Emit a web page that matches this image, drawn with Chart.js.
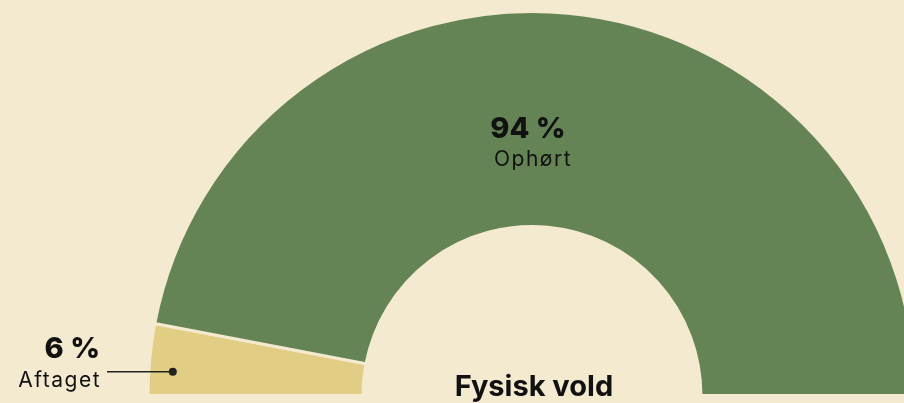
<!DOCTYPE html>
<html lang="da">
<head>
<meta charset="utf-8">
<script src="https://cdn.jsdelivr.net/npm/chart.js@4/dist/chart.umd.min.js"></script>
<style>
    html, body { margin: 0; padding: 0; background: #F3EACF; overflow: hidden; }
    #wrap { position: relative; width: 904px; height: 403px; overflow: hidden; }
    #chart { position: absolute; left: 0; top: 0; }
</style>
</head>
<body>
<div id="wrap"><canvas id="chart" width="1100" height="403"></canvas></div>
<script>
const categories = ['Aftaget', 'Ophørt'];
const values = [6, 94];
const valueLabels = ['6 %', '94 %'];
const chartTitle = 'Fysisk vold';

const bg = '#F3EACF';
const fontFamily = 'Inter, "Noto Sans", sans-serif';

// tekster tegnes direkte på canvas
const labelPlugin = {
    id: 'halfLabels',
    afterDraw(chart) {
        const ctx = chart.ctx;
        const meta = chart.getDatasetMeta(0);
        const small = meta.data[0];
        const big = meta.data[1];
        const cx = big.x, cy = big.y;

        ctx.save();
        ctx.fillStyle = '#111';

        // 94 % / Ophørt
        ctx.textAlign = 'center';
        ctx.font = `800 29px ${fontFamily}`;
        ctx.fillText(valueLabels[1], 528, cy - 258);
        ctx.font = `21px ${fontFamily}`;
        ctx.letterSpacing = '1.5px';
        ctx.fillText(categories[1], 533, cy - 230);
        ctx.letterSpacing = '0px';

        // 6 % / Aftaget med streg
        const a = small.startAngle + (small.endAngle - small.startAngle) * 0.35;
        const r = small.outerRadius - 24;
        const dx = cx + Math.cos(a) * r;
        const dy = cy + Math.sin(a) * r;
        ctx.strokeStyle = '#222';
        ctx.lineWidth = 1.5;
        ctx.beginPath();
        ctx.moveTo(107, dy);
        ctx.lineTo(dx, dy);
        ctx.stroke();
        ctx.fillStyle = '#222';
        ctx.beginPath();
        ctx.arc(dx, dy, 4, 0, Math.PI * 2);
        ctx.fill();

        ctx.fillStyle = '#111';
        ctx.textAlign = 'right';
        ctx.font = `800 29px ${fontFamily}`;
        ctx.fillText(valueLabels[0], 100, 358);
        ctx.font = `21px ${fontFamily}`;
        ctx.letterSpacing = '1.5px';
        ctx.fillText(categories[0], 101, 387);
        ctx.letterSpacing = '0px';

        // titel
        ctx.textAlign = 'center';
        ctx.font = `bold 29px ${fontFamily}`;
        ctx.fillText(chartTitle, 534, 396);
        ctx.restore();
    }
};

const ctx = document.getElementById('chart').getContext('2d');
new Chart(ctx, {
    type: 'doughnut',
    data: {
        labels: categories,
        datasets: [{
            data: values,
            backgroundColor: ['#E2CD85', '#658455'],
            borderColor: bg,
            borderWidth: 3,
            hoverOffset: 0
        }]
    },
    options: {
        responsive: false,
        animation: false,
        rotation: -90,
        circumference: 180,
        cutout: '44%',
        layout: { padding: { left: 145, right: 181, top: 10, bottom: 6 } },
        plugins: {
            legend: { display: false },
            tooltip: { enabled: false }
        }
    },
    plugins: [labelPlugin]
});
</script>
</body>
</html>
